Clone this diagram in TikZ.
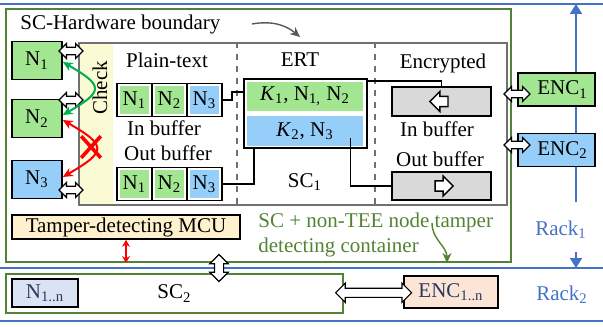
\documentclass[tikz,border=0pt]{standalone}
\usepackage{fontspec}
\setmainfont{Liberation Serif}
\usetikzlibrary{shapes,arrows.meta,calc,positioning}

\definecolor{ngreen}{RGB}{163,230,145}
\definecolor{nblue}{RGB}{150,206,250}
\definecolor{bufgrey}{RGB}{217,217,217}
\definecolor{chkyellow}{RGB}{250,250,212}
\definecolor{mcufill}{RGB}{255,240,206}
\definecolor{rackblue}{RGB}{68,114,196}
\definecolor{contgreen}{RGB}{84,130,53}
\definecolor{arrgreen}{RGB}{0,176,80}
\definecolor{scgrey}{RGB}{112,112,112}
\definecolor{nnfill}{RGB}{218,227,243}
\definecolor{encfill}{RGB}{251,229,214}
\definecolor{navy}{RGB}{44,56,92}

\tikzset{
  nodebox/.style={draw, line width=0.8pt, fill=#1, minimum width=25pt, minimum height=19pt, inner sep=0pt},
  cell/.style={draw, line width=0.8pt, fill=white, minimum width=17.5pt, minimum height=16.5pt, inner sep=0pt, outer sep=0pt,
    path picture={\fill[#1] ($(path picture bounding box.south west)+(1.3pt,1.3pt)$) rectangle ($(path picture bounding box.north east)-(1.3pt,1.3pt)$);}},
  encbox/.style={draw, line width=0.8pt, fill=#1, minimum width=38.5pt, minimum height=16.5pt, inner sep=0pt},
  bufbox/.style={draw, line width=0.8pt, fill=bufgrey, minimum width=49.5pt, minimum height=14.5pt, inner sep=0pt},
  dblarr/.style={double arrow, draw, fill=white, line width=0.6pt, inner xsep=0pt, inner ysep=1.6pt, minimum height=#1, double arrow head extend=1.8pt},
  sglarr/.style={single arrow, draw, fill=white, line width=0.7pt, inner xsep=0pt, inner ysep=2.2pt, minimum height=9pt, single arrow head extend=2.4pt},
  wire/.style={draw, line width=0.8pt},
  sepline/.style={draw=scgrey, line width=0.8pt, dashed},
  rackline/.style={draw=rackblue, line width=1pt},
}

\begin{document}
\begin{tikzpicture}[x=0.5pt, y=-0.5pt, >={Stealth[length=5pt,width=4.5pt]}, font=\fontsize{10.5}{12.5}\selectfont]
  \useasboundingbox (0,0) rectangle (603,326);
  % Rack lines
  \draw[rackline] (0,4) -- (603,4);
  \draw[rackline] (0,268) -- (603,268);
  \draw[rackline] (0,321) -- (603,321);
  \coordinate (rtop) at (576,4);
  \coordinate (rbot) at (576,268);
  \node[text=rackblue] (rack1) at (561,230) {Rack\textsubscript{1}};
  \node[text=rackblue] (rack2) at (562,295) {Rack\textsubscript{2}};
  \draw[rackline, -{Triangle[length=5pt,width=6pt]}] (rack1.north -| rtop) ++(0,-12) -- (rtop);
  \draw[rackline, -{Triangle[length=5pt,width=6pt]}] (rack1.south -| rtop) ++(0,6) -- (rbot);
  % Containers
  \node[draw=contgreen, line width=1pt, minimum width=252.5pt, minimum height=126.5pt, inner sep=0pt] (cont) at (258.5,135.5) {};
  \node[fill=chkyellow, minimum width=16.5pt, minimum height=80pt, inner sep=0pt] (chkbg) at (96.5,124) {};
  \node[draw=scgrey, line width=1pt, minimum width=214pt, minimum height=81pt, inner sep=0pt] (sc1) at (293,124) {};
  \draw[sepline] (sc1.north -| 237,0) -- (sc1.south -| 237,0);
  \draw[sepline] (sc1.north -| 375,0) -- (sc1.south -| 375,0);
  \node[anchor=west, inner sep=0pt] (hwlbl) at (20,24) {SC-Hardware boundary};
  \node[rotate=90] (chk) at (100,88) {Check};
  % Nodes
  \node[nodebox=ngreen] (n1) at (37,60.5) {N\textsubscript{1}};
  \node[nodebox=ngreen] (n2) at (37,118.5) {N\textsubscript{2}};
  \node[nodebox=nblue] (n3) at (37,179.5) {N\textsubscript{3}};
  \node (plain) at (167,60) {Plain-text};
  \node[cell=ngreen] (pin1) at (134.5,100) {N\textsubscript{1}};
  \node[cell=ngreen, right=0pt of pin1] (pin2) {N\textsubscript{2}};
  \node[cell=nblue, right=0pt of pin2] (pin3) {N\textsubscript{3}};
  \node (inlbl) at (164,128) {In buffer};
  \node (outlbl) at (168,153) {Out buffer};
  \node[cell=ngreen] (pout1) at (134.5,184) {N\textsubscript{1}};
  \node[cell=ngreen, right=0pt of pout1] (pout2) {N\textsubscript{2}};
  \node[cell=nblue, right=0pt of pout2] (pout3) {N\textsubscript{3}};
  \node (ertlbl) at (300,60) {ERT};
  \node[draw, line width=0.8pt, minimum width=61.5pt, minimum height=34.5pt, inner sep=0pt] (ert) at (305.5,113.5) {};
  \node[fill=ngreen, minimum width=58pt, minimum height=14.5pt, inner sep=0pt] (ertk1) at (305,96.5) {\textit{K}\textsubscript{1}, N\textsubscript{1,} N\textsubscript{2}};
  \node[fill=nblue, minimum width=58pt, minimum height=15pt, inner sep=0pt] (ertk2) at (305,131) {\textit{K}\textsubscript{2}, N\textsubscript{3}};
  \node (sc1lbl) at (305,182) {SC\textsubscript{1}};
  \node (enclbl) at (443,63) {Encrypted};
  \node[bufbox] (encin) at (441.5,101.5) {};
  \node[sglarr, shape border rotate=180] (inarr) at (encin.center) {};
  \node (encinlbl) at (437,129) {In buffer};
  \node (encoutlbl) at (440,159) {Out buffer};
  \node[bufbox, minimum height=14pt] (encout) at (441.5,186) {};
  \node[sglarr] (outarr) at (encout.center) {};
  \node[encbox=ngreen] (enc1) at (556.5,89.5) {\hspace*{6pt}ENC\textsubscript{1}};
  \node[encbox=nblue] (enc2) at (556.5,150) {\hspace*{6pt}ENC\textsubscript{2}};
  \node[draw, line width=0.8pt, fill=mcufill, minimum width=114pt, minimum height=12pt, inner sep=0pt] (mcu) at (126,227) {Tamper-detecting MCU};
  \node[anchor=north west, inner sep=0pt, align=left, text=contgreen] (conttxt) at (258,213) {SC + non-TEE node tamper\\detecting container};
  \node[draw=contgreen, line width=1pt, minimum width=168.5pt, minimum height=19.5pt, inner sep=0pt] (sc2) at (174.5,293.5) {SC\textsubscript{2}};
  \node[draw, line width=0.8pt, fill=nnfill, text=navy, minimum width=33pt, minimum height=14pt, inner sep=0pt] (nn) at (45,293) {N\textsubscript{1..n}};
  \node[draw, line width=0.8pt, fill=encfill, text=navy, minimum width=47pt, minimum height=16pt, inner sep=0pt] (encn) at (451,292) {ENC\textsubscript{1..n}};
  \node[cross out, draw=red, line width=1.8pt, minimum width=8pt, minimum height=9pt, inner sep=0pt] (nox) at (91,147) {};
  % Hollow links
  \node[dblarr=12pt] (hn1) at (71,51) {};
  \node[dblarr=12pt] (hn2) at (71,100) {};
  \node[dblarr=12pt] (hn3) at (71,190) {};
  \node[dblarr=13pt] (henc1) at (517,94) {};
  \node[dblarr=13pt] (henc2) at (517,145) {};
  \node[dblarr=13.5pt, rotate=90, inner ysep=2pt, double arrow head extend=2.3pt] (hrack) at (219,268) {};
  \node[dblarr=38pt, inner ysep=2pt, double arrow head extend=2.5pt] (hsc2) at ($(sc2.east)!0.5!(encn.west)$) {};
  % Edges
  \draw[wire] (pin3.east) -- ++(10,0) |- ([yshift=10.75pt]ert.west);
  \draw[wire] (pout3.east) -| ([xshift=5.5pt]ert.south west);
  \draw[wire] ([yshift=-1.5pt]ert.north east) -| (encin.north);
  \draw[wire] ([xshift=-6.5pt,yshift=-3.5pt]ertk2.east) |- (encout.west);
  \draw[<->, arrgreen, line width=1pt] ([yshift=-0.75pt]n1.east) to[out=-30, in=30, looseness=2.3] ([yshift=1.75pt]n2.east);
  \draw[<->, red, line width=1pt] ([yshift=-0.75pt]n2.east) to[out=-30, in=30, looseness=2.3] ([yshift=1.25pt]n3.east);
  \draw[red, line width=1pt, {Stealth[length=3.5pt,width=4pt]}-{Stealth[length=3.5pt,width=4pt]}] (mcu.south) -- (mcu.south |- cont.south);
  \draw[->, black!65, line width=0.7pt] ([xshift=15.5pt]hwlbl.east) to[bend left=25] ([xshift=3.5pt,yshift=2.5pt]sc1.north);
  \draw[->, contgreen, line width=0.7pt] ([xshift=87pt,yshift=-5pt]conttxt.north west) to[out=-90, in=90] ([xshift=94.5pt]conttxt.north west |- cont.south);
\end{tikzpicture}
\end{document}
